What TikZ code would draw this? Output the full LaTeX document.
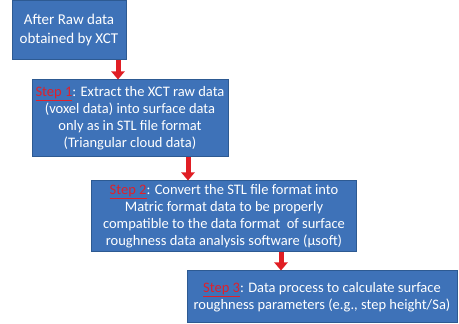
\documentclass[tikz,border=0pt]{standalone}
\usepackage{fontspec}
\setmainfont{Carlito}
\usetikzlibrary{arrows.meta}
\definecolor{boxblue}{HTML}{3E72B8}
\definecolor{boxedge}{HTML}{2D5A92}
\definecolor{stepred}{HTML}{E0202A}
\definecolor{arrowred}{HTML}{E01E24}
\newcommand{\stepmark}[1]{\textcolor{stepred}{\underline{#1}}}
\tikzset{
  flowbox/.style={rectangle, draw=boxedge, line width=1pt, fill=boxblue, text=white,
    align=center, inner sep=1pt, font=\fontsize{14.5}{17}\selectfont},
  redarrow/.style={draw=arrowred, line width=5pt, -{Triangle[width=13pt,length=8pt]}}
}
\begin{document}
\begin{tikzpicture}[x=1pt,y=1pt]
\useasboundingbox (0,0) rectangle (459,324);
\node[flowbox, minimum width=114pt, minimum height=59pt, font=\fontsize{15}{19}\selectfont]
  (b1) at (69,293.5) {After Raw data\\obtained by XCT};
\node[flowbox, minimum width=196pt, minimum height=77pt]
  (b2) at (130,205.5) {\stepmark{Step 1}: Extract the XCT raw data\\(voxel data) into surface data\\only as in STL file format\\(Triangular cloud data)};
\node[flowbox, minimum width=265pt, minimum height=71pt]
  (b3) at (224,107.5) {\stepmark{Step 2}: Convert the STL file format into\\Matric format data to be properly\\compatible to the data format\ \ of surface\\roughness data analysis software (µsoft)};
\node[flowbox, minimum width=270pt, minimum height=52pt]
  (b4) at (322,27) {\stepmark{Step 3}: Data process to calculate surface\\roughness parameters (e.g., step height/Sa)};
\draw[redarrow] ([xshift=49pt]b1.south) -- ([xshift=-12pt]b2.north);
\draw[redarrow] ([xshift=58pt]b2.south) -- ([xshift=-36pt]b3.north);
\draw[redarrow] ([xshift=57pt]b3.south) -- ([xshift=-41pt]b4.north);
\end{tikzpicture}
\end{document}
